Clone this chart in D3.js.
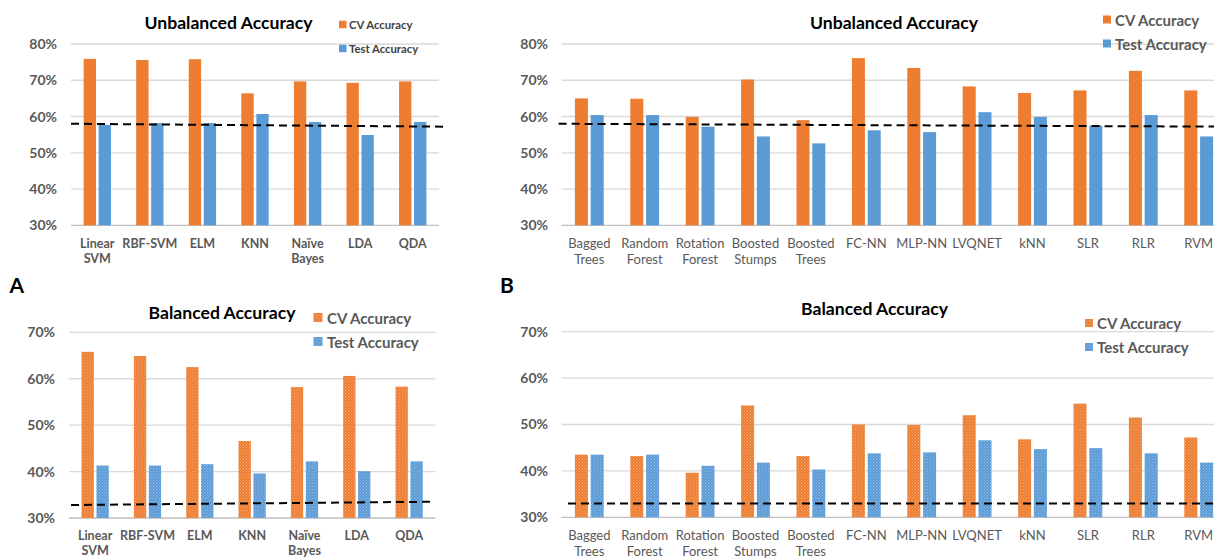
<!DOCTYPE html>
<html><head><meta charset="utf-8">
<script src="https://cdn.jsdelivr.net/npm/d3@7/dist/d3.min.js"></script>
<style>
body{margin:0;background:#fff;}
svg text{font-family:Lato,"Open Sans",sans-serif;}
</style></head>
<body><svg id="c" width="1214" height="559"></svg>
<script>
// ---------- data ----------
const catsA = ["Linear\nSVM","RBF-SVM","ELM","KNN","Naïve\nBayes","LDA","QDA"];
const catsB = ["Bagged\nTrees","Random\nForest","Rotation\nForest","Boosted\nStumps","Boosted\nTrees","FC-NN","MLP-NN","LVQNET","kNN","SLR","RLR","RVM"];

const cvUnbalA   = [75.9,75.6,75.8,66.4,69.7,69.3,69.7];
const testUnbalA = [57.7,58.2,58.2,60.7,58.5,54.9,58.5];
const cvBalA     = [65.8,64.9,62.5,46.6,58.2,60.6,58.3];
const testBalA   = [41.3,41.3,41.6,39.6,42.2,40.1,42.2];

const cvUnbalB   = [65.0,64.9,59.9,70.2,59.0,76.1,73.4,68.3,66.5,67.2,72.6,67.2];
const testUnbalB = [60.4,60.4,57.2,54.5,52.6,56.2,55.7,61.2,59.9,57.5,60.4,54.5];
const cvBalB     = [43.5,43.2,39.6,54.1,43.2,50.0,49.9,52.0,46.8,54.5,51.5,47.2];
const testBalB   = [43.5,43.5,41.1,41.8,40.3,43.8,44.0,46.6,44.7,44.9,43.8,41.8];

// chance level (dashed line) at left and right ends
const chanceUnbalA = [58.0,57.2];
const chanceUnbalB = [58.0,57.2];
const chanceBalA   = [32.8,33.5];
const chanceBalB   = [33.0,33.0];

const ticksUnbal = [30,40,50,60,70,80];
const ticksBal   = [30,40,50,60,70];
const seriesNames = ["CV Accuracy","Test Accuracy"];
const panelLetters = ["A","B"];

// ---------- drawing ----------
const svg = d3.select("#c");
const ORANGE = "#ED7D31", BLUE = "#5B9BD5";
const defs = svg.append("defs");
function pat(id, base, light){
  const p = defs.append("pattern").attr("id",id).attr("width",3).attr("height",3)
    .attr("patternUnits","userSpaceOnUse");
  p.append("rect").attr("width",3).attr("height",3).attr("fill",base);
  p.append("rect").attr("x",0).attr("y",0).attr("width",1).attr("height",1).attr("fill",light);
  p.append("rect").attr("x",1.5).attr("y",1.5).attr("width",1).attr("height",1).attr("fill",light);
}
pat("po", ORANGE, "#F6A974");
pat("pb", BLUE, "#93BDE6");

function panel(o){
  const g = svg.append("g");
  const x = d3.scaleBand().domain(o.cats).range([o.x0,o.x1]).padding(0);
  const y = d3.scaleLinear().domain([o.ticks[0], o.ticks[o.ticks.length-1]]).range([o.y0,o.y1]);
  // grid
  g.selectAll(".grid").data(o.ticks).join("line")
    .attr("x1",o.x0).attr("x2",o.x1).attr("y1",d=>y(d)).attr("y2",d=>y(d))
    .attr("stroke",d=>d===o.ticks[0]?"#BFBFBF":"#D9D9D9").attr("stroke-width",1.3);
  // y axis labels
  const ya = d3.axisLeft(y).tickValues(o.ticks).tickFormat(d=>d+"%").tickSize(0).tickPadding(0);
  const yg = g.append("g").attr("transform",`translate(${o.tickX},0)`).call(ya);
  yg.select(".domain").remove();
  yg.selectAll("text").attr("font-size",o.tickFs).attr("font-weight","bold").attr("fill","#595959")
    .attr("font-family","Lato,sans-serif");
  // bars
  const bw = x.bandwidth()*0.235, gap = x.bandwidth()*0.05;
  const series = [{v:o.cv, f:o.fills[0], off:-gap/2-bw},{v:o.test, f:o.fills[1], off:gap/2}];
  series.forEach(s=>{
    g.selectAll(null).data(o.cats).join("rect")
      .attr("x",(d)=>x(d)+x.bandwidth()/2+s.off)
      .attr("width",bw)
      .attr("y",(d,i)=>y(s.v[i]))
      .attr("height",(d,i)=>y(o.ticks[0])-y(s.v[i]))
      .attr("fill",s.f);
  });
  // x labels
  const xl = g.selectAll(".xl").data(o.cats).join("text")
    .attr("text-anchor","middle").attr("font-size",o.xFs).attr("font-weight",o.xW).attr("fill","#595959");
  xl.each(function(d){
    const t = d3.select(this);
    d.split("\n").forEach((ln,k)=>{
      t.append("tspan").attr("x",x(d)+x.bandwidth()/2).attr("y",o.xLabY+k*o.xLh).text(ln);
    });
  });
  // chance dashed line
  g.append("line").attr("x1",o.dashX0).attr("x2",o.dashX1)
    .attr("y1",y(o.chance[0])).attr("y2",y(o.chance[1]))
    .attr("stroke","#000").attr("stroke-width",2).attr("stroke-dasharray","8,5");
  // title
  g.append("text").attr("x",o.titleX).attr("y",o.titleY).attr("text-anchor","middle")
    .attr("font-size",17.6).attr("font-weight","bold").attr("fill","#000").text(o.title);
  // legend
  seriesNames.forEach((n,i)=>{
    const ly = o.legY + i*o.legDy;
    g.append("rect").attr("x",o.legX).attr("y",ly-o.legSq/2).attr("width",o.legSq).attr("height",o.legSq)
      .attr("fill",o.fills[i]);
    g.append("text").attr("x",o.legX+o.legSq+o.legPad).attr("y",ly).attr("dominant-baseline","central")
      .attr("font-size",o.legFs).attr("font-weight","bold").attr("fill",o.legC).text(n);
  });
}

panel({cats:catsA, cv:cvUnbalA, test:testUnbalA, chance:chanceUnbalA, ticks:ticksUnbal,
  x0:71, x1:439, y0:225.3, y1:44, tickX:57, tickFs:14, xFs:12.5, xW:"bold", xLabY:248, xLh:15,
  dashX0:71, dashX1:443, title:"Unbalanced Accuracy", titleX:228.5, titleY:28.5,
  legX:339, legY:24.5, legDy:24, legSq:7.5, legPad:2.5, legFs:11.3, legC:"#404040",
  fills:[ORANGE,BLUE]});
panel({cats:catsB, cv:cvUnbalB, test:testUnbalB, chance:chanceUnbalB, ticks:ticksUnbal,
  x0:561.6, x1:1226.4, y0:225.3, y1:44, tickX:548, tickFs:14, xFs:13, xW:"normal", xLabY:248, xLh:16,
  dashX0:558.6, dashX1:1226, title:"Unbalanced Accuracy", titleX:894, titleY:29,
  legX:1103, legY:19.5, legDy:24, legSq:8, legPad:4, legFs:15, legC:"#595959",
  fills:[ORANGE,BLUE]});
panel({cats:catsA, cv:cvBalA, test:testBalA, chance:chanceBalA, ticks:ticksBal,
  x0:69, x1:435.3, y0:518, y1:332.3, tickX:55, tickFs:14, xFs:12.5, xW:"bold", xLabY:540, xLh:15,
  dashX0:71, dashX1:432, title:"Balanced Accuracy", titleX:222, titleY:319,
  legX:313.5, legY:317.5, legDy:24, legSq:9, legPad:4.5, legFs:15, legC:"#595959",
  fills:["url(#po)","url(#pb)"]});
panel({cats:catsB, cv:cvBalB, test:testBalB, chance:chanceBalB, ticks:ticksBal,
  x0:561.6, x1:1226.4, y0:517.3, y1:331.7, tickX:548, tickFs:14, xFs:13, xW:"normal", xLabY:540, xLh:16,
  dashX0:568, dashX1:1226, title:"Balanced Accuracy", titleX:874.5, titleY:315,
  legX:1085, legY:323, legDy:24, legSq:8, legPad:4, legFs:15, legC:"#595959",
  fills:["url(#po)","url(#pb)"]});

// panel letters
svg.selectAll(".letter").data(panelLetters).join("text")
  .attr("x",(d,i)=>i===0?9.5:500).attr("y",293).attr("font-size",21).attr("font-weight","bold")
  .attr("fill","#000").text(d=>d);
</script></body></html>
